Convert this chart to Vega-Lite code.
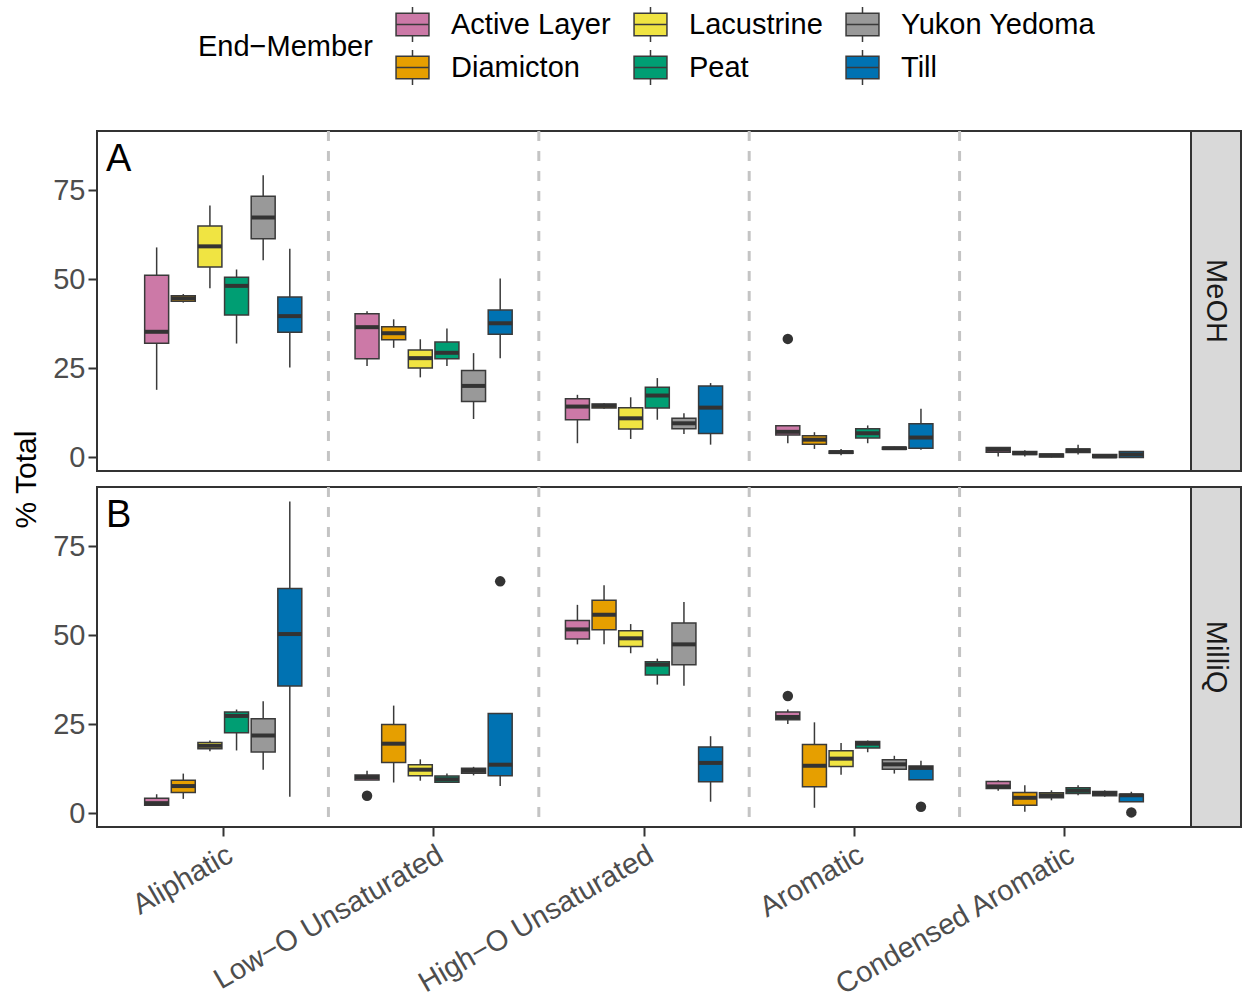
{
  "$schema": "https://vega.github.io/schema/vega-lite/v6.json",
  "background": "white",
  "padding": {"left": 10, "top": 6, "right": 0, "bottom": 0},
  "config": {
    "font": "Liberation Sans",
    "view": {"stroke": "#333333", "strokeWidth": 2},
    "axis": {
      "domain": false, "grid": false,
      "tickColor": "#333333", "tickWidth": 2, "tickSize": 9,
      "labelFont": "Liberation Sans", "labelFontSize": 29, "labelColor": "#4D4D4D", "labelPadding": 3,
      "titleFont": "Liberation Sans", "titleFontSize": 30, "titleFontWeight": "normal", "titleColor": "#000000"
    }
  },
  "datasets": {
    "boxes": [
      {"s": "MeOH", "c": "Aliphatic", "m": "Active Layer", "lo": 19.0, "q1": 32.1, "med": 35.3, "q3": 51.2, "hi": 59.0},
      {"s": "MeOH", "c": "Aliphatic", "m": "Diamicton", "lo": 43.5, "q1": 43.9, "med": 44.7, "q3": 45.4, "hi": 45.9},
      {"s": "MeOH", "c": "Aliphatic", "m": "Lacustrine", "lo": 47.5, "q1": 53.5, "med": 59.3, "q3": 65.0, "hi": 70.8},
      {"s": "MeOH", "c": "Aliphatic", "m": "Peat", "lo": 32.0, "q1": 40.0, "med": 48.2, "q3": 50.6, "hi": 52.8},
      {"s": "MeOH", "c": "Aliphatic", "m": "Yukon Yedoma", "lo": 55.4, "q1": 61.4, "med": 67.4, "q3": 73.4, "hi": 79.3},
      {"s": "MeOH", "c": "Aliphatic", "m": "Till", "lo": 25.3, "q1": 35.2, "med": 39.7, "q3": 45.1, "hi": 58.6},
      {"s": "MeOH", "c": "Low−O Unsaturated", "m": "Active Layer", "lo": 25.7, "q1": 27.7, "med": 36.6, "q3": 40.4, "hi": 41.1},
      {"s": "MeOH", "c": "Low−O Unsaturated", "m": "Diamicton", "lo": 30.8, "q1": 33.1, "med": 34.9, "q3": 36.7, "hi": 38.8},
      {"s": "MeOH", "c": "Low−O Unsaturated", "m": "Lacustrine", "lo": 22.5, "q1": 25.1, "med": 27.9, "q3": 30.2, "hi": 33.2},
      {"s": "MeOH", "c": "Low−O Unsaturated", "m": "Peat", "lo": 25.7, "q1": 27.7, "med": 29.4, "q3": 32.4, "hi": 36.2},
      {"s": "MeOH", "c": "Low−O Unsaturated", "m": "Yukon Yedoma", "lo": 10.8, "q1": 15.7, "med": 20.1, "q3": 24.4, "hi": 29.3},
      {"s": "MeOH", "c": "Low−O Unsaturated", "m": "Till", "lo": 27.9, "q1": 34.6, "med": 37.7, "q3": 41.4, "hi": 50.3},
      {"s": "MeOH", "c": "High−O Unsaturated", "m": "Active Layer", "lo": 4.0, "q1": 10.6, "med": 14.3, "q3": 16.5, "hi": 17.6},
      {"s": "MeOH", "c": "High−O Unsaturated", "m": "Diamicton", "lo": 13.7, "q1": 13.9, "med": 14.5, "q3": 15.0, "hi": 15.2},
      {"s": "MeOH", "c": "High−O Unsaturated", "m": "Lacustrine", "lo": 5.2, "q1": 8.0, "med": 11.0, "q3": 14.0, "hi": 16.9},
      {"s": "MeOH", "c": "High−O Unsaturated", "m": "Peat", "lo": 10.6, "q1": 13.9, "med": 17.4, "q3": 19.7, "hi": 22.3},
      {"s": "MeOH", "c": "High−O Unsaturated", "m": "Yukon Yedoma", "lo": 6.6, "q1": 8.1, "med": 9.6, "q3": 11.0, "hi": 12.4},
      {"s": "MeOH", "c": "High−O Unsaturated", "m": "Till", "lo": 3.6, "q1": 6.7, "med": 14.0, "q3": 20.1, "hi": 20.9},
      {"s": "MeOH", "c": "Aromatic", "m": "Active Layer", "lo": 4.0, "q1": 6.3, "med": 7.2, "q3": 8.9, "hi": 8.9},
      {"s": "MeOH", "c": "Aromatic", "m": "Diamicton", "lo": 2.4, "q1": 3.7, "med": 5.0, "q3": 6.1, "hi": 7.1},
      {"s": "MeOH", "c": "Aromatic", "m": "Lacustrine", "lo": 0.6, "q1": 1.2, "med": 1.5, "q3": 1.8, "hi": 2.4},
      {"s": "MeOH", "c": "Aromatic", "m": "Peat", "lo": 4.0, "q1": 5.5, "med": 6.8, "q3": 8.1, "hi": 9.0},
      {"s": "MeOH", "c": "Aromatic", "m": "Yukon Yedoma", "lo": 2.2, "q1": 2.3, "med": 2.6, "q3": 2.9, "hi": 3.0},
      {"s": "MeOH", "c": "Aromatic", "m": "Till", "lo": 2.2, "q1": 2.6, "med": 5.6, "q3": 9.5, "hi": 13.7},
      {"s": "MeOH", "c": "Condensed Aromatic", "m": "Active Layer", "lo": 0.3, "q1": 1.5, "med": 2.2, "q3": 2.8, "hi": 2.8},
      {"s": "MeOH", "c": "Condensed Aromatic", "m": "Diamicton", "lo": 0.3, "q1": 0.8, "med": 1.2, "q3": 1.7, "hi": 2.0},
      {"s": "MeOH", "c": "Condensed Aromatic", "m": "Lacustrine", "lo": 0.0, "q1": 0.1, "med": 0.6, "q3": 1.0, "hi": 1.0},
      {"s": "MeOH", "c": "Condensed Aromatic", "m": "Peat", "lo": 0.8, "q1": 1.4, "med": 2.0, "q3": 2.4, "hi": 3.6},
      {"s": "MeOH", "c": "Condensed Aromatic", "m": "Yukon Yedoma", "lo": 0.0, "q1": 0.0, "med": 0.3, "q3": 0.8, "hi": 0.8},
      {"s": "MeOH", "c": "Condensed Aromatic", "m": "Till", "lo": 0.0, "q1": 0.0, "med": 0.8, "q3": 1.7, "hi": 1.7},
      {"s": "MilliQ", "c": "Aliphatic", "m": "Active Layer", "lo": 2.2, "q1": 2.3, "med": 2.9, "q3": 4.3, "hi": 5.4},
      {"s": "MilliQ", "c": "Aliphatic", "m": "Diamicton", "lo": 4.1, "q1": 5.9, "med": 7.7, "q3": 9.3, "hi": 11.2},
      {"s": "MilliQ", "c": "Aliphatic", "m": "Lacustrine", "lo": 17.5, "q1": 18.2, "med": 19.0, "q3": 19.9, "hi": 20.5},
      {"s": "MilliQ", "c": "Aliphatic", "m": "Peat", "lo": 17.7, "q1": 22.7, "med": 27.4, "q3": 28.5, "hi": 29.2},
      {"s": "MilliQ", "c": "Aliphatic", "m": "Yukon Yedoma", "lo": 12.3, "q1": 17.3, "med": 21.9, "q3": 26.6, "hi": 31.5},
      {"s": "MilliQ", "c": "Aliphatic", "m": "Till", "lo": 4.7, "q1": 35.8, "med": 50.4, "q3": 63.2, "hi": 87.6},
      {"s": "MilliQ", "c": "Low−O Unsaturated", "m": "Active Layer", "lo": 9.4, "q1": 9.4, "med": 10.2, "q3": 10.8, "hi": 12.0},
      {"s": "MilliQ", "c": "Low−O Unsaturated", "m": "Diamicton", "lo": 8.7, "q1": 14.3, "med": 19.6, "q3": 25.0, "hi": 30.3},
      {"s": "MilliQ", "c": "Low−O Unsaturated", "m": "Lacustrine", "lo": 9.2, "q1": 10.6, "med": 12.3, "q3": 13.7, "hi": 15.2},
      {"s": "MilliQ", "c": "Low−O Unsaturated", "m": "Peat", "lo": 8.8, "q1": 8.8, "med": 9.6, "q3": 10.5, "hi": 11.2},
      {"s": "MilliQ", "c": "Low−O Unsaturated", "m": "Yukon Yedoma", "lo": 10.7, "q1": 11.3, "med": 12.0, "q3": 12.7, "hi": 13.1},
      {"s": "MilliQ", "c": "Low−O Unsaturated", "m": "Till", "lo": 7.7, "q1": 10.6, "med": 13.7, "q3": 28.1, "hi": 28.1},
      {"s": "MilliQ", "c": "High−O Unsaturated", "m": "Active Layer", "lo": 47.5, "q1": 49.0, "med": 51.7, "q3": 54.2, "hi": 58.6},
      {"s": "MilliQ", "c": "High−O Unsaturated", "m": "Diamicton", "lo": 47.5, "q1": 51.6, "med": 55.8, "q3": 59.9, "hi": 64.1},
      {"s": "MilliQ", "c": "High−O Unsaturated", "m": "Lacustrine", "lo": 45.0, "q1": 46.9, "med": 49.2, "q3": 51.3, "hi": 53.2},
      {"s": "MilliQ", "c": "High−O Unsaturated", "m": "Peat", "lo": 36.2, "q1": 38.9, "med": 41.8, "q3": 42.6, "hi": 43.5},
      {"s": "MilliQ", "c": "High−O Unsaturated", "m": "Yukon Yedoma", "lo": 35.9, "q1": 41.8, "med": 47.5, "q3": 53.5, "hi": 59.4},
      {"s": "MilliQ", "c": "High−O Unsaturated", "m": "Till", "lo": 3.3, "q1": 8.9, "med": 14.2, "q3": 18.7, "hi": 21.7},
      {"s": "MilliQ", "c": "Aromatic", "m": "Active Layer", "lo": 25.1, "q1": 26.3, "med": 27.1, "q3": 28.5, "hi": 29.2},
      {"s": "MilliQ", "c": "Aromatic", "m": "Diamicton", "lo": 1.6, "q1": 7.5, "med": 13.4, "q3": 19.4, "hi": 25.6},
      {"s": "MilliQ", "c": "Aromatic", "m": "Lacustrine", "lo": 10.9, "q1": 13.2, "med": 15.4, "q3": 17.6, "hi": 19.8},
      {"s": "MilliQ", "c": "Aromatic", "m": "Peat", "lo": 17.2, "q1": 18.4, "med": 19.6, "q3": 20.2, "hi": 20.5},
      {"s": "MilliQ", "c": "Aromatic", "m": "Yukon Yedoma", "lo": 11.2, "q1": 12.4, "med": 13.8, "q3": 15.1, "hi": 16.2},
      {"s": "MilliQ", "c": "Aromatic", "m": "Till", "lo": 9.5, "q1": 9.5, "med": 12.8, "q3": 13.3, "hi": 14.8},
      {"s": "MilliQ", "c": "Condensed Aromatic", "m": "Active Layer", "lo": 6.4, "q1": 7.0, "med": 7.6, "q3": 9.0, "hi": 9.3},
      {"s": "MilliQ", "c": "Condensed Aromatic", "m": "Diamicton", "lo": 0.5, "q1": 2.3, "med": 4.4, "q3": 5.9, "hi": 7.9},
      {"s": "MilliQ", "c": "Condensed Aromatic", "m": "Lacustrine", "lo": 3.7, "q1": 4.4, "med": 5.1, "q3": 5.8, "hi": 6.5},
      {"s": "MilliQ", "c": "Condensed Aromatic", "m": "Peat", "lo": 5.1, "q1": 5.6, "med": 6.4, "q3": 7.2, "hi": 7.9},
      {"s": "MilliQ", "c": "Condensed Aromatic", "m": "Yukon Yedoma", "lo": 4.7, "q1": 5.0, "med": 5.6, "q3": 6.2, "hi": 6.5},
      {"s": "MilliQ", "c": "Condensed Aromatic", "m": "Till", "lo": 3.3, "q1": 3.3, "med": 5.1, "q3": 5.4, "hi": 6.1}
    ],
    "outliers": [
      {"s": "MeOH", "c": "Aromatic", "m": "Active Layer", "v": 33.3},
      {"s": "MilliQ", "c": "Low−O Unsaturated", "m": "Active Layer", "v": 5.0},
      {"s": "MilliQ", "c": "Low−O Unsaturated", "m": "Till", "v": 65.2},
      {"s": "MilliQ", "c": "Aromatic", "m": "Active Layer", "v": 33.0},
      {"s": "MilliQ", "c": "Aromatic", "m": "Till", "v": 1.9},
      {"s": "MilliQ", "c": "Condensed Aromatic", "m": "Till", "v": 0.3}
    ],
    "dividers": [
      {"c": "Aliphatic"}, {"c": "Low−O Unsaturated"}, {"c": "High−O Unsaturated"}, {"c": "Aromatic"}
    ]
  },
  "resolve": {"scale": {"color": "shared"}, "legend": {"color": "shared"}},
  "bounds": "flush",
  "spacing": {"row": 16, "column": 0},
  "columns": 2,
  "concat": [
    {
      "width": 1094, "height": 340,
      "layer": [
        {
          "data": {"name": "dividers"},
          "mark": {"type": "rule", "color": "#C4C4C4", "strokeWidth": 3, "strokeDash": [10, 10]},
          "encoding": {
            "x": {"field": "c", "type": "nominal", "bandPosition": 1,
                  "scale": {"domain": ["Aliphatic", "Low−O Unsaturated", "High−O Unsaturated", "Aromatic", "Condensed Aromatic"], "paddingInner": 0, "paddingOuter": 0.1},
                  "axis": null}
          }
        },
        {
          "data": {"name": "boxes"},
          "transform": [{"filter": "datum.s === 'MeOH'"}],
          "mark": {"type": "rule", "color": "#3A3A3A", "strokeWidth": 1.5},
          "encoding": {
            "x": {"field": "c", "type": "nominal", "axis": null},
            "xOffset": {"field": "m", "type": "nominal", "scale": {"domain": ["Active Layer", "Diamicton", "Lacustrine", "Peat", "Yukon Yedoma", "Till"], "paddingInner": 0.1, "paddingOuter": 1.035}},
            "y": {"field": "lo", "type": "quantitative",
                  "scale": {"domain": [-3.8, 91.7], "nice": false, "zero": false},
                  "axis": {"values": [0, 25, 50, 75], "title": "% Total", "titleAngle": -90, "titleX": -62, "titleY": 348, "titleAlign": "center", "titleBaseline": "alphabetic"}},
            "y2": {"field": "hi"}
          }
        },
        {
          "data": {"name": "boxes"},
          "transform": [{"filter": "datum.s === 'MeOH'"}],
          "mark": {"type": "bar", "stroke": "#3A3A3A", "strokeWidth": 1.5, "opacity": 1},
          "encoding": {
            "x": {"field": "c", "type": "nominal"},
            "xOffset": {"field": "m", "type": "nominal"},
            "y": {"field": "q1", "type": "quantitative"},
            "y2": {"field": "q3"},
            "color": {"field": "m", "type": "nominal",
                      "scale": {"domain": ["Active Layer", "Lacustrine", "Yukon Yedoma", "Diamicton", "Peat", "Till"],
                                "range": ["#CC79A7", "#F0E442", "#999999", "#E69F00", "#009E73", "#0072B2"]},
                      "legend": {"orient": "none", "legendX": 101, "legendY": -125, "columns": 3, "direction": "horizontal",
                                 "title": "End−Member", "titleOrient": "left", "titleAnchor": "middle", "titleBaseline": "middle",
                                 "titleFontSize": 29, "titleFontWeight": "normal", "titleColor": "#000000", "titlePadding": 21,
                                 "labelFontSize": 29, "labelColor": "#000000", "labelLimit": 400, "labelOffset": 20,
                                 "columnPadding": 20, "rowPadding": 2,
                                 "symbolType": "M0,-1V-0.64M-0.94,-0.64H0.94V0.64H-0.94ZM-0.94,0H0.94M0,0.64V1",
                                 "symbolSize": 1225, "symbolStrokeColor": "#3A3A3A", "symbolStrokeWidth": 1.5, "symbolOpacity": 1}}
          }
        },
        {
          "data": {"name": "boxes"},
          "transform": [{"filter": "datum.s === 'MeOH'"}],
          "mark": {"type": "tick", "color": "#333333", "thickness": 4, "size": 24, "opacity": 1},
          "encoding": {
            "x": {"field": "c", "type": "nominal"},
            "xOffset": {"field": "m", "type": "nominal"},
            "y": {"field": "med", "type": "quantitative"}
          }
        },
        {
          "data": {"name": "outliers"},
          "transform": [{"filter": "datum.s === 'MeOH'"}],
          "mark": {"type": "point", "filled": true, "color": "#333333", "size": 110, "opacity": 1},
          "encoding": {
            "x": {"field": "c", "type": "nominal"},
            "xOffset": {"field": "m", "type": "nominal"},
            "y": {"field": "v", "type": "quantitative"}
          }
        },
        {
          "data": {"values": [{"tag": "A"}]},
          "mark": {"type": "text", "fontSize": 38, "align": "left", "baseline": "top", "color": "#000000", "dx": -12, "dy": 10},
          "encoding": {
            "x": {"datum": "Aliphatic", "type": "nominal", "bandPosition": 0},
            "y": {"datum": 91.7, "type": "quantitative"},
            "text": {"field": "tag"}
          }
        }
      ]
    },
    {
      "width": 50, "height": 340,
      "view": {"fill": "#D9D9D9", "stroke": "#333333", "strokeWidth": 2},
      "data": {"values": [{"s": "MeOH"}]},
      "mark": {"type": "text", "angle": 90, "fontSize": 29, "color": "#1A1A1A", "align": "center", "baseline": "middle"},
      "encoding": {"text": {"field": "s"}}
    },
    {
      "width": 1094, "height": 340,
      "layer": [
        {
          "data": {"name": "dividers"},
          "mark": {"type": "rule", "color": "#C4C4C4", "strokeWidth": 3, "strokeDash": [10, 10]},
          "encoding": {
            "x": {"field": "c", "type": "nominal", "bandPosition": 1,
                  "scale": {"domain": ["Aliphatic", "Low−O Unsaturated", "High−O Unsaturated", "Aromatic", "Condensed Aromatic"], "paddingInner": 0, "paddingOuter": 0.1},
                  "axis": {"title": null, "labelAngle": -30, "labelAlign": "right", "labelBaseline": "top", "labelPadding": 4, "labelLimit": 400}}
          }
        },
        {
          "data": {"name": "boxes"},
          "transform": [{"filter": "datum.s === 'MilliQ'"}],
          "mark": {"type": "rule", "color": "#3A3A3A", "strokeWidth": 1.5},
          "encoding": {
            "x": {"field": "c", "type": "nominal"},
            "xOffset": {"field": "m", "type": "nominal", "scale": {"domain": ["Active Layer", "Diamicton", "Lacustrine", "Peat", "Yukon Yedoma", "Till"], "paddingInner": 0.1, "paddingOuter": 1.035}},
            "y": {"field": "lo", "type": "quantitative",
                  "scale": {"domain": [-3.8, 91.7], "nice": false, "zero": false},
                  "axis": {"values": [0, 25, 50, 75], "title": null}},
            "y2": {"field": "hi"}
          }
        },
        {
          "data": {"name": "boxes"},
          "transform": [{"filter": "datum.s === 'MilliQ'"}],
          "mark": {"type": "bar", "stroke": "#3A3A3A", "strokeWidth": 1.5, "opacity": 1},
          "encoding": {
            "x": {"field": "c", "type": "nominal"},
            "xOffset": {"field": "m", "type": "nominal"},
            "y": {"field": "q1", "type": "quantitative"},
            "y2": {"field": "q3"},
            "color": {"field": "m", "type": "nominal",
                      "scale": {"domain": ["Active Layer", "Lacustrine", "Yukon Yedoma", "Diamicton", "Peat", "Till"],
                                "range": ["#CC79A7", "#F0E442", "#999999", "#E69F00", "#009E73", "#0072B2"]}}
          }
        },
        {
          "data": {"name": "boxes"},
          "transform": [{"filter": "datum.s === 'MilliQ'"}],
          "mark": {"type": "tick", "color": "#333333", "thickness": 4, "size": 24, "opacity": 1},
          "encoding": {
            "x": {"field": "c", "type": "nominal"},
            "xOffset": {"field": "m", "type": "nominal"},
            "y": {"field": "med", "type": "quantitative"}
          }
        },
        {
          "data": {"name": "outliers"},
          "transform": [{"filter": "datum.s === 'MilliQ'"}],
          "mark": {"type": "point", "filled": true, "color": "#333333", "size": 110, "opacity": 1},
          "encoding": {
            "x": {"field": "c", "type": "nominal"},
            "xOffset": {"field": "m", "type": "nominal"},
            "y": {"field": "v", "type": "quantitative"}
          }
        },
        {
          "data": {"values": [{"tag": "B"}]},
          "mark": {"type": "text", "fontSize": 38, "align": "left", "baseline": "top", "color": "#000000", "dx": -12, "dy": 10},
          "encoding": {
            "x": {"datum": "Aliphatic", "type": "nominal", "bandPosition": 0},
            "y": {"datum": 91.7, "type": "quantitative"},
            "text": {"field": "tag"}
          }
        }
      ]
    },
    {
      "width": 50, "height": 340,
      "view": {"fill": "#D9D9D9", "stroke": "#333333", "strokeWidth": 2},
      "data": {"values": [{"s": "MilliQ"}]},
      "mark": {"type": "text", "angle": 90, "fontSize": 29, "color": "#1A1A1A", "align": "center", "baseline": "middle"},
      "encoding": {"text": {"field": "s"}}
    }
  ]
}
